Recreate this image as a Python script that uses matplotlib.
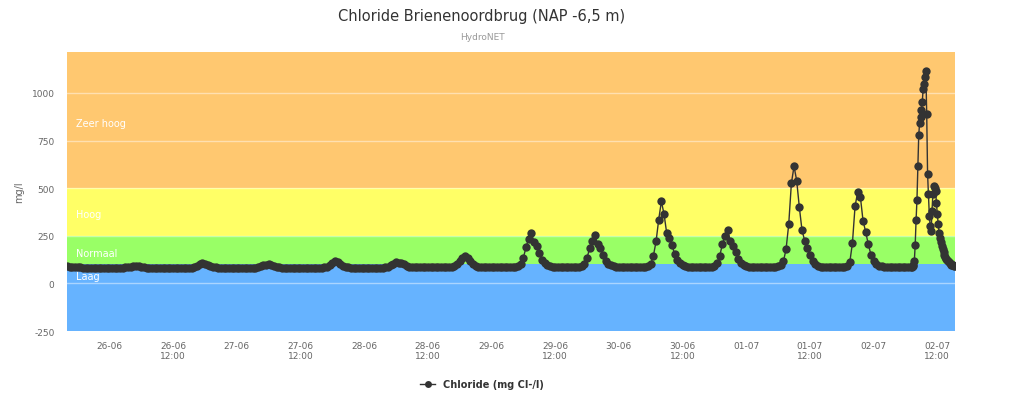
import matplotlib
matplotlib.use('Agg')
import matplotlib.pyplot as plt
import matplotlib.ticker as mticker
from matplotlib.lines import Line2D
import pandas as pd

# chloride readings (mg Cl-/l), per day, 30 min steps unless noted
d25_06 = [90, 88, 86, 85, 84, 84, 83, 83, 82, 82, 82, 82, 82, 82, 82, 82]  # from 16:00
d26_06 = [82, 82, 82, 82, 82, 83,
          84, 86, 88, 90, 91, 90, 88, 85, 83] + [82] * 16 + \
         [83, 86, 92, 100, 105, 103, 97, 90, 86, 84] + [82] * 7
d27_06 = [82] * 7 + [83, 85, 89, 94, 99, 101, 97, 91, 86, 84] + [82] * 16 + \
         [84, 88, 98, 109, 116, 110, 100, 92, 87, 84] + [82] * 5
d28_06 = [82] * 8 + [84, 88, 95, 104, 110, 109, 106, 100, 92, 87, 84] + [84] * 14 + \
         [86, 92, 104, 120, 135, 142, 133, 115, 100, 92, 88] + [86] * 4
d29_06 = [86] * 10 + [90, 100, 135, 190, 235, 265, 215, 195, 160, 125, 105, 95, 90] + [88] * 11 + \
         [90, 100, 135, 185, 225, 252, 205, 185, 150, 120, 102, 94, 90] + [88]
d30_06 = [88] * 11 + [92, 102, 145, 220, 335, 430, 365, 265, 240, 200, 155, 125, 105, 95, 90] + \
         [88] * 10 + [92, 105, 145, 205, 250, 280, 220, 195, 165, 130, 108, 96]
d01_07 = [90, 88] + [88] * 10 + \
         [90, 95, 115, 180, 310, 525, 615, 540, 400, 280, 225, 185, 150, 118, 100, 92] + \
         [88] * 10 + [92, 110, 210, 405, 480, 455, 330, 270, 205, 150]
d02_07 = [118, 100, 92, 90] + [88] * 11  # 00:00 - 07:00
# 02-07 from 07:10, 10 min steps
d02_07_peak = [88, 89, 95, 116, 203, 333, 440, 618, 779, 843, 873, 910, 952, 1023, 1049, 1085, 1116,
               892, 573, 467, 354, 300, 275, 380, 470, 513, 500, 487, 423, 362, 314, 265, 240,
               215, 195, 178, 163, 150, 139, 130, 122, 115, 110, 106, 102, 99, 97, 95, 93, 92]

segments = [
    ('2018-06-25 16:00', '30min', d25_06),
    ('2018-06-26 00:00', '30min', d26_06),
    ('2018-06-27 00:00', '30min', d27_06),
    ('2018-06-28 00:00', '30min', d28_06),
    ('2018-06-29 00:00', '30min', d29_06),
    ('2018-06-30 00:00', '30min', d30_06),
    ('2018-07-01 00:00', '30min', d01_07),
    ('2018-07-02 00:00', '30min', d02_07),
    ('2018-07-02 07:10', '10min', d02_07_peak),
]

times = []
values = []
for start, step, vals in segments:
    times += list(pd.date_range(start, periods=len(vals), freq=step))
    values += vals

bands = [(-250, 100, '#66b3ff', 'Laag', 37),
         (100, 250, '#99ff66', 'Normaal', 158),
         (250, 500, '#ffff66', 'Hoog', 363),
         (500, 1300, '#ffc870', 'Zeer hoog', 842)]

fig = plt.figure(figsize=(10.24, 4.1), dpi=100)
ax = fig.add_axes([67 / 1024, 1 - 332 / 410, 888 / 1024, 279 / 410])

for lo, hi, col, name, ly in bands:
    ax.axhspan(lo, hi, color=col, zorder=0, lw=0)
    ax.text(0.01, ly, name, transform=ax.get_yaxis_transform(), color='white',
            fontsize=7, va='center', ha='left', zorder=1)

for yv in [0, 250, 500, 750, 1000]:
    ax.axhline(yv, color='white', alpha=0.45, lw=1, zorder=0.5)

ax.plot(times, values, color='#333333', lw=1, marker='o', markersize=6,
        markeredgewidth=0, zorder=3)

ax.set_xlim(times[0], times[-1])
ax.set_ylim(-250, 1215)
ax.yaxis.set_major_locator(mticker.MultipleLocator(250))
ax.yaxis.set_major_formatter(mticker.FuncFormatter(lambda v, p: '%d' % v))

xt = pd.date_range('2018-06-26 00:00', '2018-07-02 12:00', freq='12h')
ax.set_xticks(xt)
ax.set_xticklabels([t.strftime('%d-%m') if t.hour == 0 else t.strftime('%d-%m') + '\n12:00' for t in xt])

ax.tick_params(axis='both', length=0, labelsize=6.5, labelcolor='#666666')
ax.tick_params(axis='y', pad=9)
ax.tick_params(axis='x', pad=7)
for s in ax.spines.values():
    s.set_visible(False)
ax.set_ylabel('mg/l', fontsize=7, color='#666666', labelpad=5)

fig.text(482 / 1024, 1 - 17 / 410, 'Chloride Brienenoordbrug (NAP -6,5 m)', ha='center', va='center',
         fontsize=10.5, color='#333333')
fig.text(482 / 1024, 1 - 37 / 410, 'HydroNET', ha='center', va='center', fontsize=6.5, color='#999999')

handle = Line2D([0], [0], color='#333333', lw=1, marker='o', markersize=5, markeredgewidth=0)
leg = fig.legend([handle], ['Chloride (mg Cl-/l)'], loc='center', bbox_to_anchor=(482 / 1024, 1 - 385 / 410),
                 frameon=False, handlelength=1.6, prop={'size': 7, 'weight': 'bold'})
for t in leg.get_texts():
    t.set_color('#333333')

fig.savefig('out.png', dpi=100)
